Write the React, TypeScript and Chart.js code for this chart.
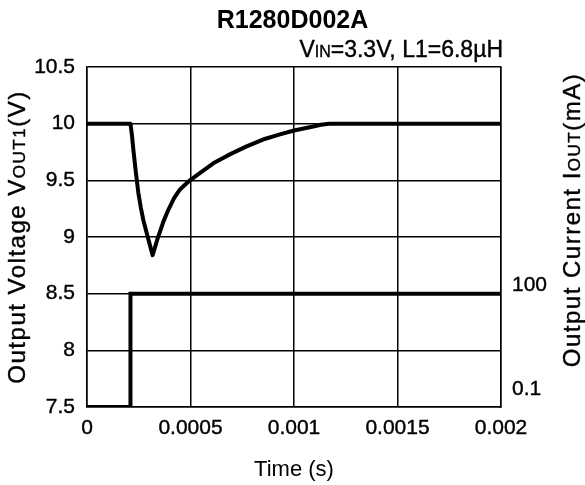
import React, { useEffect, useRef } from 'react';
import { Chart, registerables } from 'chart.js';

Chart.register(...registerables);

const FONT = "'Liberation Sans', Arial, Helvetica, sans-serif";

// ---- text ----
const titleText = 'R1280D002A';
const conditionParts = ['V', 'IN', '=3.3V, L1=6.8µH'];
const xTitle = 'Time (s)';
const yTitleParts = ['Output Voltage V', 'OUT1', '(V)'];
const y2TitleParts = ['Output Current I', 'OUT', '(mA)'];

// ---- ticks ----
const xTickValues = [0, 0.0005, 0.001, 0.0015, 0.002];
const xTickLabels = ['0', '0.0005', '0.001', '0.0015', '0.002'];
const yTickValues = [7.5, 8, 8.5, 9, 9.5, 10, 10.5];
const yTickLabels = ['7.5', '8', '8.5', '9', '9.5', '10', '10.5'];
const y2TickValues = [0.1, 100];
const y2TickLabels = ['0.1', '100'];

// ---- data: output voltage (V) vs time (s) ----
const voltageTime = [
  0, 0.00021, 0.000217, 0.000224, 0.000236, 0.000248, 0.00026, 0.000272,
  0.000295, 0.000317, 0.000327, 0.00034, 0.000353, 0.00037, 0.000393,
  0.00042, 0.000449, 0.000497, 0.00055, 0.00061, 0.00068, 0.000771,
  0.00085, 0.000932, 0.001, 0.001093, 0.00113, 0.00117, 0.002,
];
const voltageValues = [
  10, 10, 9.9, 9.77, 9.57, 9.39, 9.26, 9.15,
  8.99, 8.84, 8.9, 8.98, 9.05, 9.14, 9.24,
  9.34, 9.42, 9.5, 9.57, 9.65, 9.72, 9.8,
  9.86, 9.905, 9.94, 9.975, 9.99, 10, 10,
];

// ---- data: output current (mA) vs time (s) ----
const currentTime = [0, 0.00021, 0.00021, 0.002];
const currentValues = [0.1, 0.1, 100, 100];

type Seg = { text: string; size: number };

function drawRich(
  ctx: CanvasRenderingContext2D,
  segs: Seg[],
  x: number,
  y: number,
  align: 'left' | 'center' | 'right',
  spacing: number
) {
  const c: any = ctx;
  c.letterSpacing = spacing + 'px';
  const widths = segs.map((s) => {
    ctx.font = `${s.size}px ${FONT}`;
    return ctx.measureText(s.text).width;
  });
  const total = widths.reduce((a, b) => a + b, 0);
  let cx = align === 'left' ? x : align === 'center' ? x - total / 2 : x - total;
  ctx.textAlign = 'left';
  ctx.textBaseline = 'alphabetic';
  ctx.strokeStyle = '#000';
  ctx.lineWidth = 0.4;
  segs.forEach((s, i) => {
    ctx.font = `${s.size}px ${FONT}`;
    ctx.fillText(s.text, cx, y);
    ctx.strokeText(s.text, cx, y);
    cx += widths[i];
  });
  c.letterSpacing = '0px';
}

const richTextPlugin = {
  id: 'richText',
  afterDraw(chart: any) {
    const { ctx, chartArea } = chart;
    ctx.save();
    ctx.fillStyle = '#000';

    // condition note
    drawRich(
      ctx,
      [
        { text: conditionParts[0], size: 23 },
        { text: conditionParts[1], size: 16 },
        { text: conditionParts[2], size: 23 },
      ],
      chartArea.right + 2,
      57,
      'right',
      0
    );

    const titleSize = 24;
    const small = 17;
    // left axis title
    ctx.save();
    ctx.translate(16, (chartArea.top + chartArea.bottom) / 2);
    ctx.rotate(-Math.PI / 2);
    drawRich(
      ctx,
      [
        { text: yTitleParts[0], size: titleSize },
        { text: yTitleParts[1], size: small },
        { text: yTitleParts[2], size: titleSize },
      ],
      0,
      titleSize * 0.36,
      'center',
      1.5
    );
    ctx.restore();

    // right axis title
    ctx.save();
    ctx.translate(571, (chartArea.top + chartArea.bottom) / 2 - 17);
    ctx.rotate(-Math.PI / 2);
    drawRich(
      ctx,
      [
        { text: y2TitleParts[0], size: titleSize },
        { text: y2TitleParts[1], size: small },
        { text: y2TitleParts[2], size: titleSize },
      ],
      0,
      titleSize * 0.36,
      'center',
      1.5
    );
    ctx.restore();

    ctx.restore();
  },
};

export default function App() {
  const canvasRef = useRef<HTMLCanvasElement | null>(null);

  useEffect(() => {
    const canvas = canvasRef.current;
    if (!canvas) return;

    const lineStyle = {
      borderColor: '#000',
      backgroundColor: '#000',
      borderWidth: 4,
      pointRadius: 0,
      pointHoverRadius: 0,
      tension: 0,
      borderJoinStyle: 'round',
      fill: false,
    };

    const tickFont = { family: FONT, size: 21 };
    const gridStyle = { color: '#000', lineWidth: 1.5, drawTicks: false };
    const borderStyle = { color: '#000', width: 1.5 };
    const tickStroke = { textStrokeColor: '#000', textStrokeWidth: 0.4 };

    const chart = new Chart(canvas, {
      type: 'line',
      data: {
        datasets: [
          {
            label: 'Output Voltage',
            data: voltageTime.map((t, i) => ({ x: t, y: voltageValues[i] })),
            yAxisID: 'y',
            ...lineStyle,
          },
          {
            label: 'Output Current',
            data: currentTime.map((t, i) => ({ x: t, y: currentValues[i] })),
            yAxisID: 'y2',
            ...lineStyle,
            borderJoinStyle: 'miter',
          },
        ],
      },
      options: {
        responsive: false,
        animation: false,
        events: [],
        layout: { padding: 0 },
        plugins: {
          legend: { display: false },
          tooltip: { enabled: false },
          title: {
            display: true,
            text: titleText,
            color: '#000',
            font: { family: FONT, size: 25, weight: 'bold' },
            padding: { top: 6, bottom: 31 },
          },
        },
        scales: {
          x: {
            type: 'linear',
            min: 0,
            max: 0.002,
            afterBuildTicks: (s: any) => {
              s.ticks = xTickValues.map((v) => ({ value: v }));
            },
            afterFit: (s: any) => {
              s.height = 78;
            },
            ticks: {
              callback: (_v: any, i: number) => xTickLabels[i],
              color: '#000',
              font: tickFont,
              padding: 9,
              maxRotation: 0,
              autoSkip: false,
              ...tickStroke,
            },
            grid: gridStyle,
            border: borderStyle,
            title: {
              display: true,
              text: xTitle,
              color: '#000',
              font: { family: FONT, size: 22 },
              padding: { top: 0, bottom: 2 },
            },
          },
          y: {
            type: 'linear',
            position: 'left',
            min: 7.5,
            max: 10.5,
            afterBuildTicks: (s: any) => {
              s.ticks = yTickValues.map((v) => ({ value: v }));
            },
            afterFit: (s: any) => {
              s.width = 87;
            },
            ticks: {
              callback: (_v: any, i: number) => yTickLabels[i],
              color: '#000',
              font: tickFont,
              padding: 12,
              autoSkip: false,
              ...tickStroke,
            },
            grid: gridStyle,
            border: borderStyle,
          },
          y2: {
            type: 'linear',
            position: 'right',
            min: 0,
            max: 300,
            afterBuildTicks: (s: any) => {
              s.ticks = y2TickValues.map((v) => ({ value: v }));
            },
            afterFit: (s: any) => {
              s.width = 84;
            },
            ticks: {
              // labels sit above their level: pad with empty lines
              callback: (_v: any, i: number) =>
                i === 0 ? [y2TickLabels[i], '', ''] : [y2TickLabels[i], ''],
              color: '#000',
              font: { family: FONT, size: 21, lineHeight: 0.85 },
              padding: 11,
              autoSkip: false,
              ...tickStroke,
            },
            grid: { display: false, drawTicks: false },
            border: borderStyle,
          },
        },
      } as any,
      plugins: [richTextPlugin],
    });

    return () => {
      chart.destroy();
    };
  }, []);

  return (
    <>
      <style>{'html,body{margin:0;padding:0;overflow:hidden;background:#fff}'}</style>
      <canvas
        ref={canvasRef}
        width={585}
        height={485}
        style={{ display: 'block', width: 585, height: 485 }}
      />
    </>
  );
}
